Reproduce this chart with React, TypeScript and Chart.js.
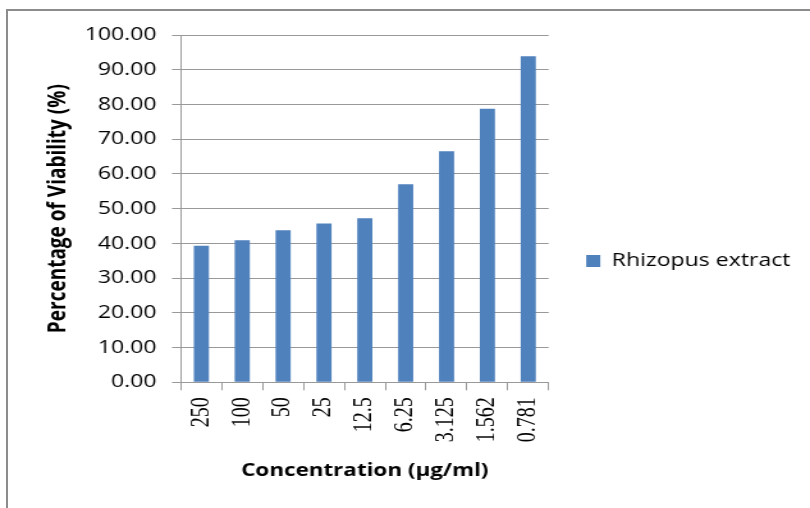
import React, { useEffect, useRef } from "react";
import { Chart, registerables } from "chart.js";

Chart.register(...registerables);

const categories = ["250", "100", "50", "25", "12.5", "6.25", "3.125", "1.562", "0.781"];
const viability = [39.3, 40.9, 43.8, 45.7, 47.2, 57.0, 66.5, 78.8, 93.9];
const seriesName = "Rhizopus extract";
const yTitle = "Percentage of Viability (%)";
const xTitle = "Concentration (µg/ml)";

const W = 810;
const H = 508;
const IW = 633;
const S = W / IW;

export default function App() {
  const ref = useRef<HTMLCanvasElement | null>(null);

  useEffect(() => {
    if (!ref.current) return;
    const sans = "'Open Sans', sans-serif";
    const chart = new Chart(ref.current, {
      type: "bar",
      data: {
        labels: categories,
        datasets: [
          {
            label: seriesName,
            data: viability,
            backgroundColor: "#4f81bd",
            borderWidth: 0,
            categoryPercentage: 1,
            barPercentage: 0.37,
          },
        ],
      },
      options: {
        responsive: false,
        animation: false,
        layout: { padding: { top: 35, bottom: 21, left: 0, right: 5.3 } },
        plugins: {
          tooltip: { enabled: false },
          legend: {
            position: "right",
            maxWidth: 320,
            labels: {
              boxWidth: 11,
              boxHeight: 12,
              padding: 29.3,
              color: "#000",
              font: { family: sans, size: 18 },
            },
          },
        },
        scales: {
          x: {
            afterFit: (s: any) => {
              s.height = 104.7;
            },
            grid: {
              display: true,
              drawOnChartArea: false,
              drawTicks: true,
              tickLength: 8,
              color: "#999",
              offset: true,
            },
            border: { display: true, color: "#999" },
            ticks: {
              autoSkip: false,
              maxRotation: 90,
              minRotation: 90,
              padding: 7,
              color: "#000",
              font: { family: "'Liberation Serif', serif", size: 20 },
            },
            title: {
              display: true,
              text: xTitle,
              color: "#000",
              font: { family: sans, size: 17.5, weight: "bold" },
              padding: { top: 0, bottom: 5.5 },
            },
          },
          y: {
            min: 0,
            max: 100,
            afterFit: (s: any) => {
              s.width = 141.4;
            },
            grid: { color: "#999", tickLength: 7, drawTicks: true },
            border: { display: true, color: "#999" },
            ticks: {
              stepSize: 10,
              padding: 12,
              color: "#000",
              font: { family: sans, size: 18 },
              callback: (v: any) => Number(v).toFixed(2),
            },
            title: {
              display: true,
              text: yTitle,
              color: "#000",
              font: { family: sans, size: 19, weight: "bold" },
              padding: { top: 33.9, bottom: 0 },
            },
          },
        },
      },
    });
    return () => chart.destroy();
  }, []);

  return (
    <div
      style={{
        position: "fixed",
        left: 0,
        top: 0,
        width: W,
        height: H,
        overflow: "hidden",
        background: "#fff",
      }}
    >
      <div
        style={{
          position: "absolute",
          left: 6,
          top: 9,
          width: 900,
          height: 700,
          border: "2px solid #8c8c8c",
          boxSizing: "border-box",
        }}
      />
      <div
        style={{
          position: "absolute",
          left: 0,
          top: 0,
          width: IW,
          height: H,
          transform: `scaleX(${S})`,
          transformOrigin: "0 0",
        }}
      >
        <canvas ref={ref} width={IW} height={H} />
      </div>
    </div>
  );
}
